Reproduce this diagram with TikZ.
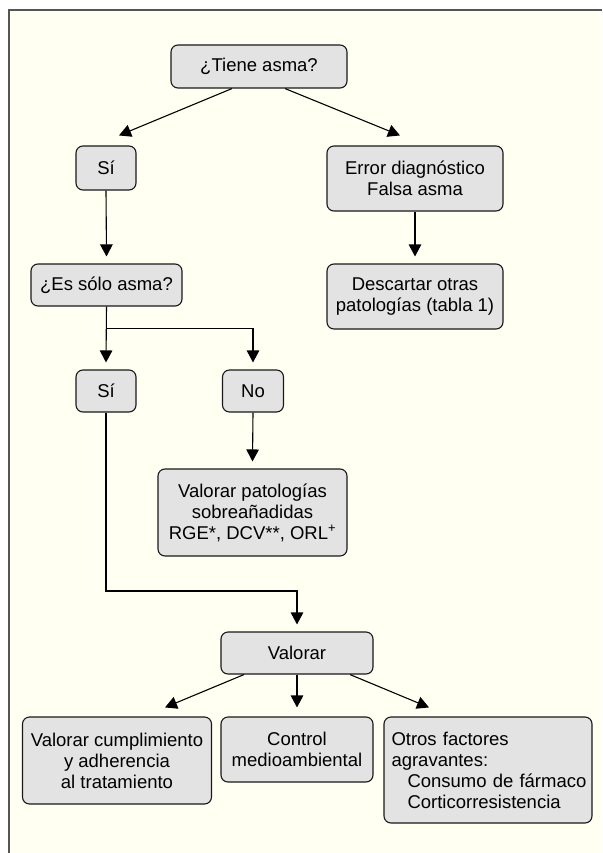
\documentclass[tikz,border=0pt]{standalone}
\usepackage{fontspec}
\setmainfont{Liberation Sans}
\usetikzlibrary{arrows.meta,calc}
\definecolor{cream}{HTML}{FFFFF2}
\definecolor{boxfill}{HTML}{E3E3E3}
\definecolor{framecol}{HTML}{555555}
\tikzset{
  box/.style={draw=black!90, line width=1.1pt, fill=boxfill, rounded corners=7pt,
    align=center, inner sep=0pt, font=\fontsize{18.5pt}{21pt}\selectfont},
  arr/.style={line width=1.1pt, -{Triangle[length=12pt,width=12.5pt]}},
  ln/.style={line width=1.1pt}
}
\begin{document}
\begin{tikzpicture}[x=1pt,y=-1pt]
\useasboundingbox (0,0) rectangle (602,853);
\fill[white] (0,0) rectangle (602,853);
\fill[cream] (9,10) rectangle (602,853);
\draw[framecol, line width=2pt] (9,853) -- (9,10) -- (602,10);

\node[box, minimum width=176pt, minimum height=43pt] (tiene) at (259,66.5) {¿Tiene asma?};
\node[box, minimum width=60pt, minimum height=44pt] (si1) at (106,168) {Sí};
\node[box, minimum width=176pt, minimum height=65pt] (error) at (415,178.5) {Error diagnóstico\\Falsa asma};
\node[box, minimum width=151pt, minimum height=42pt] (es) at (106.5,285) {¿Es sólo asma?};
\node[box, minimum width=176pt, minimum height=65pt] (desc) at (415,296.5) {Descartar otras\\patologías (tabla 1)};
\node[box, minimum width=60pt, minimum height=42pt] (si2) at (106,391) {Sí};
\node[box, minimum width=61pt, minimum height=42pt] (no) at (253,391) {No};
\node[box, minimum width=189pt, minimum height=87pt] (valpat) at (252.5,512.5) {Valorar patologías\\sobreañadidas\\RGE*, DCV**, ORL\textsuperscript{+}};
\node[box, minimum width=152pt, minimum height=42pt] (valorar) at (297,653) {Valorar};
\node[box, minimum width=189pt, minimum height=87pt] (cump) at (117,760.5) {Valorar cumplimiento\\y adherencia\\al tratamiento};
\node[box, minimum width=152pt, minimum height=65pt] (ctrl) at (297,749.5) {Control\\medioambiental};
\node[box, minimum height=106pt, text width=193pt, inner xsep=7.5pt, align=left] (otros) at (488,770)
  {\mbox{Otros factores}\\\mbox{agravantes:}\\\mbox{\hspace*{16pt}Consumo de fármaco}\\\mbox{\hspace*{16pt}Corticorresistencia}};

\coordinate (br) at ($(es.south)+(0,22)$);
\coordinate (low) at (0,591);

\draw[arr] ([xshift=-27pt]tiene.south) -- ([xshift=13pt,yshift=10pt]si1.north);
\draw[arr] ([xshift=26pt]tiene.south) -- ([xshift=-15pt,yshift=10pt]error.north);
\draw[arr] (si1.south) -- ([yshift=7pt]es.north);
\draw[arr] (error.south) -- ([yshift=7pt]desc.north);
\draw[arr] (es.south) -- ([yshift=7pt]si2.north);
\draw[arr] (br) -| ([yshift=7pt]no.north);
\draw[arr] (no.south) -- ([yshift=7pt]valpat.north);
\draw[arr] (si2.south) -- (si2.south |- low) -| ([yshift=7pt]valorar.north);
\draw[arr] ([xshift=-53pt]valorar.south) -- ([xshift=48pt,yshift=9pt]cump.north);
\draw[arr] (valorar.south) -- ([yshift=9pt]ctrl.north);
\draw[arr] ([xshift=53pt]valorar.south) -- ([xshift=-59pt,yshift=9pt]otros.north);
\end{tikzpicture}
\end{document}
